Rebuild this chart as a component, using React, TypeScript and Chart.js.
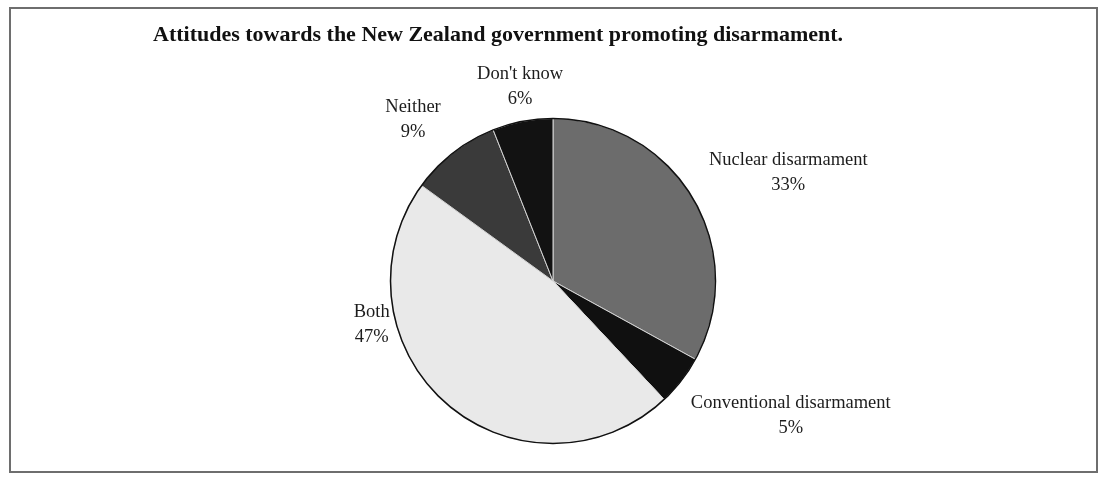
import React, { useEffect, useRef } from "react";
import { Chart, registerables } from "chart.js";

Chart.register(...registerables);

const TITLE = "Attitudes towards the New Zealand government promoting disarmament.";
const categories = ["Nuclear disarmament", "Conventional disarmament", "Both", "Neither", "Don't know"];
const values = [33, 5, 47, 9, 6];
const sliceColors = ["#6c6c6c", "#101010", "#e9e9e9", "#3a3a3a", "#121212"];

// label placement relative to each slice: angular shift (deg) from the slice's mid-angle, and radius as multiple of pie radius
const labelAngleShift = [5.8, -8.2, 35, -3.2, 1.2];
const labelRadiusFactor = [1.595, 1.683, 1.148, 1.313, 1.213];

const FONT = "'Times New Roman', 'Liberation Serif', serif";
const LABEL_SIZE = 18.5;
const LINE_GAP = 25;

const outlinePlugin = {
  id: "pieOutline",
  afterDatasetsDraw(chart: any) {
    const meta = chart.getDatasetMeta(0);
    if (!meta.data.length) return;
    const arc: any = meta.data[0];
    const { x, y, outerRadius } = arc.getProps(["x", "y", "outerRadius"], true);
    const ctx = chart.ctx;
    ctx.save();
    ctx.beginPath();
    ctx.arc(x, y, outerRadius, 0, Math.PI * 2);
    ctx.lineWidth = 1.5;
    ctx.strokeStyle = "#111";
    ctx.stroke();
    ctx.restore();
  },
};

const labelPlugin = {
  id: "outerLabels",
  afterDraw(chart: any) {
    const meta = chart.getDatasetMeta(0);
    const ctx = chart.ctx;
    ctx.save();
    ctx.font = `${LABEL_SIZE}px ${FONT}`;
    ctx.fillStyle = "#1c1c1c";
    ctx.textAlign = "center";
    ctx.textBaseline = "middle";
    meta.data.forEach((arc: any, i: number) => {
      const { x, y, startAngle, endAngle, outerRadius } = arc.getProps(
        ["x", "y", "startAngle", "endAngle", "outerRadius"],
        true
      );
      const mid = (startAngle + endAngle) / 2 + (labelAngleShift[i] * Math.PI) / 180;
      const r = outerRadius * labelRadiusFactor[i];
      const lx = x + Math.cos(mid) * r;
      const ly = y + Math.sin(mid) * r;
      ctx.fillText(categories[i], lx, ly - LINE_GAP / 2);
      ctx.fillText(`${values[i]}%`, lx, ly + LINE_GAP / 2);
    });
    ctx.restore();
  },
};

export default function App() {
  const canvasRef = useRef<HTMLCanvasElement | null>(null);

  useEffect(() => {
    document.body.style.margin = "0";
    const canvas = canvasRef.current;
    if (!canvas) return;
    const chart = new Chart(canvas, {
      type: "pie",
      data: {
        labels: categories,
        datasets: [
          {
            data: values,
            backgroundColor: sliceColors,
            borderColor: "#d4d4d4",
            borderWidth: 1,
          },
        ],
      },
      options: {
        responsive: false,
        animation: false,
        devicePixelRatio: 1,
        layout: { padding: { left: 153, right: 146, top: 22, bottom: 38 } },
        plugins: {
          legend: { display: false },
          tooltip: { enabled: false },
          title: {
            display: true,
            text: TITLE,
            align: "start",
            color: "#111",
            font: { family: FONT, size: 22, weight: "bold" },
            padding: { top: 0, bottom: 69.6 },
          },
        },
      },
      plugins: [outlinePlugin, labelPlugin],
    });
    return () => chart.destroy();
  }, []);

  return (
    <div style={{ position: "relative", width: 1099, height: 482, background: "#fff", overflow: "hidden" }}>
      <div
        style={{
          position: "absolute",
          left: 9,
          top: 7,
          width: 1089,
          height: 466,
          boxSizing: "border-box",
          border: "2px solid #6e6e6e",
        }}
      />
      <canvas
        ref={canvasRef}
        width={1099}
        height={482}
        style={{ position: "absolute", left: 0, top: 0, width: 1099, height: 482 }}
      />
    </div>
  );
}
